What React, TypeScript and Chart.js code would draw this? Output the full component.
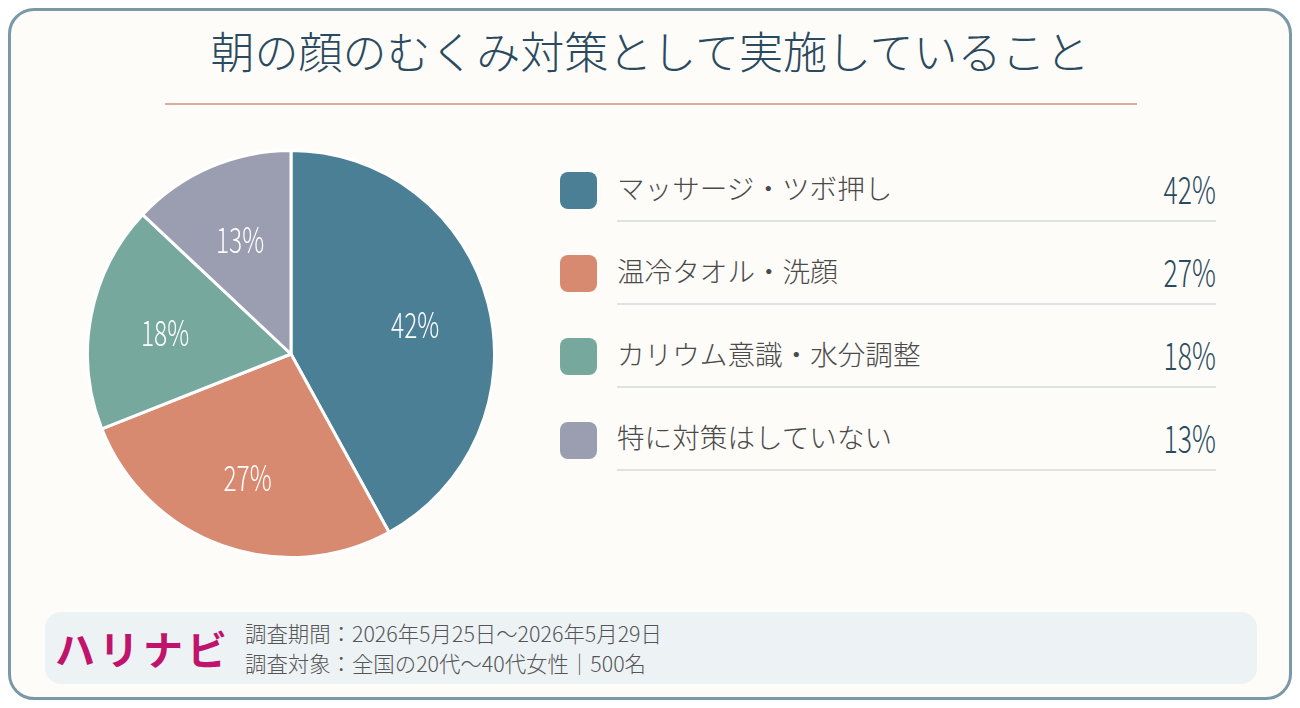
import { useEffect, useRef } from 'react'
import { Chart, registerables } from 'chart.js'

Chart.register(...registerables)

const TITLE = '朝の顔のむくみ対策として実施していること'
const categories = ['マッサージ・ツボ押し', '温冷タオル・洗顔', 'カリウム意識・水分調整', '特に対策はしていない']
const shares = [42, 27, 18, 13]
const sliceColors = ['#4a7f96', '#d78a70', '#76a89e', '#9b9db0']
const surveyLines = ['調査期間：2026年5月25日～2026年5月29日', '調査対象：全国の20代～40代女性｜500名']

const JP_FONT = "'Noto Sans CJK JP', 'Noto Sans', sans-serif"
// no condensed face installed, so digits get squeezed horizontally
const NUM_SQUEEZE = 0.7

const sliceLabels = {
  id: 'sliceLabels',
  afterDatasetsDraw(chart: any) {
    const { ctx } = chart
    const meta = chart.getDatasetMeta(0)
    meta.data.forEach((arc: any, i: number) => {
      const mid = (arc.startAngle + arc.endAngle) / 2
      const r = arc.outerRadius * 0.63
      ctx.save()
      ctx.translate(arc.x + Math.cos(mid) * r, arc.y + Math.sin(mid) * r + 3)
      ctx.scale(NUM_SQUEEZE, 1)
      ctx.fillStyle = '#ffffff'
      ctx.textAlign = 'center'
      ctx.textBaseline = 'middle'
      ctx.font = `300 35px ${JP_FONT}`
      ctx.fillText(`${shares[i]}%`, 0, 0)
      ctx.restore()
    })
  },
}

const PieChart = () => {
  const chartRef = useRef<HTMLCanvasElement>(null)
  const chartInstance = useRef<Chart | null>(null)

  useEffect(() => {
    if (!chartRef.current) return
    if (chartInstance.current) chartInstance.current.destroy()

    chartInstance.current = new Chart(chartRef.current, {
      type: 'pie',
      data: {
        labels: categories,
        datasets: [{
          data: shares,
          backgroundColor: sliceColors,
          borderColor: '#ffffff',
          borderWidth: 3,
        }],
      },
      options: {
        animation: false,
        responsive: true,
        maintainAspectRatio: false,
        layout: { padding: 0 },
        plugins: {
          legend: { display: false },
          tooltip: { enabled: false },
        },
      },
      plugins: [sliceLabels],
    })

    return () => {
      if (chartInstance.current) {
        chartInstance.current.destroy()
        chartInstance.current = null
      }
    }
  }, [])

  return (
    <div style={{ position: 'absolute', left: 75, top: 138, width: 410, height: 410 }}>
      <canvas ref={chartRef} />
    </div>
  )
}

const App = () => {
  return (
    <div
      style={{
        position: 'relative',
        width: 1284,
        height: 692,
        boxSizing: 'border-box',
        border: '3px solid #7b98a6',
        borderRadius: 26,
        background: '#fdfcf8',
        fontFamily: JP_FONT,
      }}
    >
      <div
        style={{
          position: 'absolute', left: 0, top: 11, width: '100%', textAlign: 'center',
          fontSize: 44, lineHeight: '56px', color: '#2a4a60', fontWeight: 300,
        }}
      >
        {TITLE}
      </div>
      <div style={{ position: 'absolute', left: 154, top: 92, width: 972, height: 2, background: '#d9ae9e' }} />

      <PieChart />

      {categories.map((name, i) => {
        const cy = 179.5 + i * 83.2
        return (
          <div key={name}>
            <div
              style={{
                position: 'absolute', left: 549, top: cy - 18.5, width: 37, height: 37,
                borderRadius: 8, background: sliceColors[i],
              }}
            />
            <div
              style={{
                position: 'absolute', left: 606, top: cy - 24, height: 40, lineHeight: '40px',
                fontSize: 27.6, color: '#4a4a4a', fontWeight: 300, whiteSpace: 'nowrap',
              }}
            >
              {name}
            </div>
            <div
              style={{
                position: 'absolute', right: 1278 - 1205, top: cy - 25, height: 44, lineHeight: '44px',
                fontSize: 38, color: '#2a4a60', fontWeight: 300, whiteSpace: 'nowrap',
                transform: `scaleX(${NUM_SQUEEZE})`, transformOrigin: 'right center',
              }}
            >
              {shares[i]}%
            </div>
            <div style={{ position: 'absolute', left: 606, top: cy + 29, width: 599, height: 2, background: '#dde3e5' }} />
          </div>
        )
      })}

      <div
        style={{
          position: 'absolute', left: 34, top: 601, width: 1212, height: 72,
          borderRadius: 16, background: '#edf2f5',
        }}
      >
        <div
          style={{
            position: 'absolute', left: 10, top: 14, height: 44, lineHeight: '44px',
            fontSize: 40, fontWeight: 700, color: '#c0136c', letterSpacing: 4, whiteSpace: 'nowrap',
          }}
        >
          ハリナビ
        </div>
        {surveyLines.map((line, i) => (
          <div
            key={line}
            style={{
              position: 'absolute', left: 200, top: 6 + i * 30, height: 30, lineHeight: '30px',
              fontSize: 21.4, color: '#555555', fontWeight: 300, whiteSpace: 'nowrap',
            }}
          >
            {line}
          </div>
        ))}
      </div>
    </div>
  )
}

export default App
